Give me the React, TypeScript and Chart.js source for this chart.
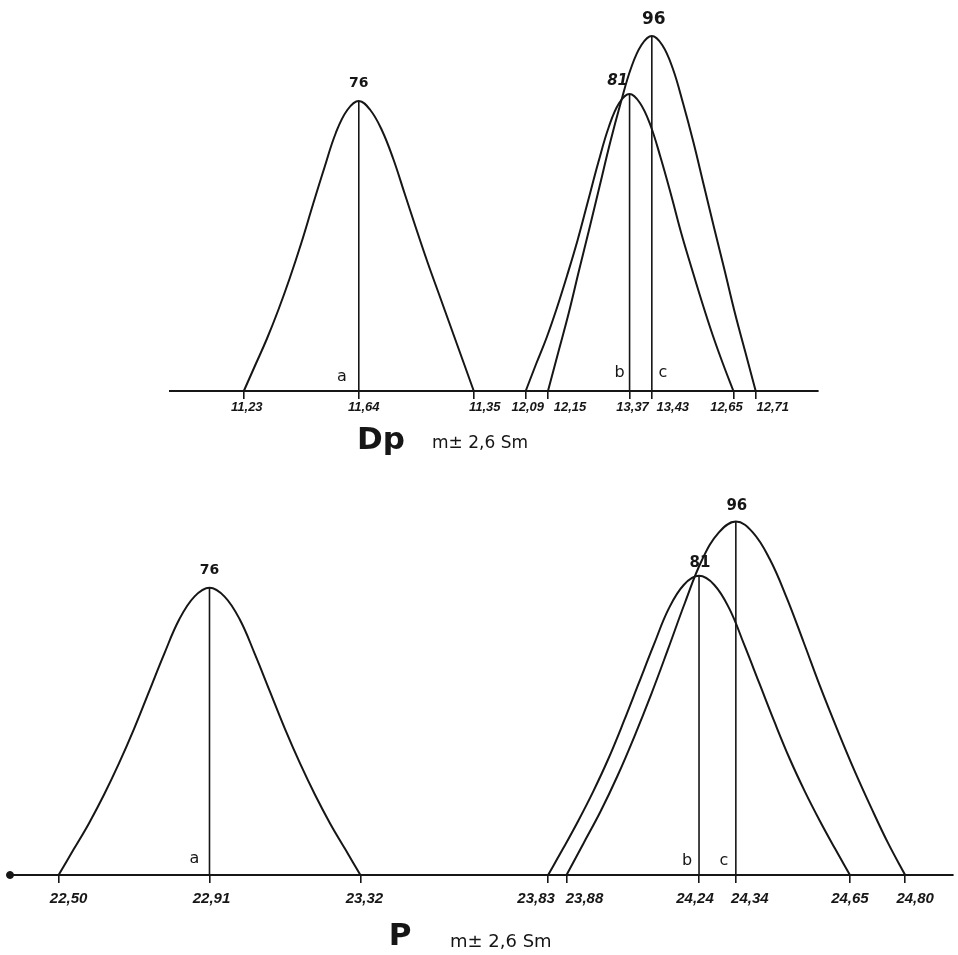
import React, { useEffect, useRef } from "react";
import { Chart, registerables } from "chart.js";

Chart.register(...registerables);

// ---------- Panel Dp (top) ----------
const dpTickValues = [11.33, 11.64, 11.95, 12.09, 12.15, 12.37, 12.43, 12.65, 12.71];
const dpTickLabels = ["11,23", "11,64", "11,35", "12,09", "12,15", "13,37", "13,43", "12,65", "12,71"];
const dpMeans = [11.64, 12.37, 12.43];
const dpPeaks = [290, 297, 355];
const dpCounts = ["76", "81", "96"];

const dpA_x = [11.33, 11.361, 11.392, 11.423, 11.454, 11.485, 11.516, 11.547, 11.578, 11.609, 11.64, 11.671, 11.702, 11.733, 11.764, 11.795, 11.826, 11.857, 11.888, 11.919, 11.95];
const dpA_y = [0, 26, 52, 81, 113, 148, 186, 223, 258, 281, 290, 281, 261, 232, 197, 162, 128, 96, 64, 32, 0];
const dpB_x = [12.09, 12.118, 12.146, 12.174, 12.202, 12.23, 12.258, 12.286, 12.314, 12.342, 12.37, 12.398, 12.426, 12.454, 12.482, 12.51, 12.538, 12.566, 12.594, 12.622, 12.65];
const dpB_y = [0, 27, 53, 83, 116, 151, 190, 229, 264, 288, 297, 288, 266, 233, 196, 157, 122, 88, 56, 27, 0];
const dpC_x = [12.15, 12.178, 12.206, 12.234, 12.262, 12.29, 12.318, 12.346, 12.374, 12.402, 12.43, 12.458, 12.486, 12.514, 12.542, 12.57, 12.598, 12.626, 12.654, 12.682, 12.71];
const dpC_y = [0, 39, 78, 121, 163, 206, 249, 288, 323, 346, 355, 346, 323, 288, 249, 206, 163, 121, 78, 39, 0];

// ---------- Panel P (bottom) ----------
const pTickValues = [22.5, 22.91, 23.32, 23.83, 23.88, 24.24, 24.34, 24.65, 24.8];
const pTickLabels = ["22,50", "22,91", "23,32", "23,83", "23,88", "24,24", "24,34", "24,65", "24,80"];
const pMeans = [22.91, 24.24, 24.34];
const pPeaks = [291, 303, 358];
const pCounts = ["76", "81", "96"];

const pA_x = [22.5, 22.541, 22.582, 22.623, 22.664, 22.705, 22.746, 22.787, 22.828, 22.869, 22.91, 22.951, 22.992, 23.033, 23.074, 23.115, 23.156, 23.197, 23.238, 23.279, 23.32];
const pA_y = [0, 26, 52, 81, 113, 148, 186, 224, 259, 282, 291, 282, 259, 224, 186, 148, 113, 81, 52, 26, 0];
const pB_x = [23.83, 23.871, 23.912, 23.953, 23.994, 24.035, 24.076, 24.117, 24.158, 24.199, 24.24, 24.281, 24.322, 24.363, 24.404, 24.445, 24.486, 24.527, 24.568, 24.609, 24.65];
const pB_y = [0, 27, 55, 85, 118, 155, 194, 233, 270, 294, 303, 294, 270, 233, 194, 155, 118, 85, 55, 27, 0];
const pC_x = [23.88, 23.926, 23.972, 24.018, 24.064, 24.11, 24.156, 24.202, 24.248, 24.294, 24.34, 24.386, 24.432, 24.478, 24.524, 24.57, 24.616, 24.662, 24.708, 24.754, 24.8];
const pC_y = [0, 32, 64, 100, 140, 183, 229, 276, 319, 347, 358, 347, 320, 281, 236, 190, 147, 106, 68, 32, 0];

const groupLetters = ["a", "b", "c"];

const INK = "#161616";

type PanelCfg = {
  width: number;
  height: number;
  xMin: number;
  xMax: number;
  yMax: number;
  padding: { left: number; right: number; top: number; bottom: number };
  tickValues: number[];
  tickLabels: string[];
  tickLabelDx: number[];
  tickLabelDy: number;
  tickFont: string;
  curves: { x: number[]; y: number[] }[];
  means: number[];
  peaks: number[];
  counts: string[];
  countFonts: string[];
  countOffsets: [number, number][];
  letterOffsets: [number, number][];
  title: string;
  titleX: number;
  titleY: number;
  subX: number;
  subY: number;
  subFont: string;
  dot: boolean;
};

function buildChart(canvas: HTMLCanvasElement, cfg: PanelCfg) {
  const datasets: any[] = [];
  cfg.curves.forEach((c) => {
    datasets.push({
      data: c.x.map((x, i) => ({ x, y: c.y[i] })),
      borderColor: INK,
      borderWidth: 2,
      pointRadius: 0,
      fill: false,
      tension: 0.4,
      clip: false,
    });
  });
  cfg.means.forEach((m, i) => {
    datasets.push({
      data: [
        { x: m, y: 0 },
        { x: m, y: cfg.peaks[i] },
      ],
      borderColor: INK,
      borderWidth: 1.6,
      pointRadius: 0,
      fill: false,
      tension: 0,
      clip: false,
    });
  });
  if (cfg.dot) {
    datasets.push({
      data: [{ x: cfg.xMin, y: 0 }],
      showLine: false,
      pointRadius: 3.5,
      pointBackgroundColor: INK,
      pointBorderColor: INK,
      clip: false,
    });
  }

  const annotate = {
    id: "annotate",
    afterDatasetsDraw(chart: any) {
      const ctx = chart.ctx;
      const xs = chart.scales.x;
      const ys = chart.scales.y;
      const base = ys.getPixelForValue(0);
      ctx.save();
      ctx.fillStyle = INK;
      ctx.textAlign = "center";
      ctx.textBaseline = "middle";
      // axis tick labels (hand-lettered, nudged like the original)
      ctx.font = cfg.tickFont;
      cfg.tickValues.forEach((v, i) => {
        ctx.fillText(cfg.tickLabels[i], xs.getPixelForValue(v) + cfg.tickLabelDx[i], base + cfg.tickLabelDy);
      });
      // counts at peaks
      cfg.means.forEach((m, i) => {
        ctx.font = cfg.countFonts[i];
        const px = xs.getPixelForValue(m) + cfg.countOffsets[i][0];
        const py = ys.getPixelForValue(cfg.peaks[i]) + cfg.countOffsets[i][1];
        ctx.fillText(cfg.counts[i], px, py);
      });
      // group letters
      ctx.font = "16px 'DejaVu Sans', sans-serif";
      cfg.means.forEach((m, i) => {
        const px = xs.getPixelForValue(m) + cfg.letterOffsets[i][0];
        const py = base + cfg.letterOffsets[i][1];
        ctx.fillText(groupLetters[i], px, py);
      });
      // title
      ctx.textAlign = "center";
      ctx.font = "bold 31px 'DejaVu Sans', sans-serif";
      ctx.fillText(cfg.title, cfg.titleX, cfg.titleY);
      ctx.textAlign = "left";
      ctx.font = cfg.subFont;
      ctx.fillText("m\u00b1 2,6 Sm", cfg.subX, cfg.subY);
      ctx.restore();
    },
  };

  return new Chart(canvas, {
    type: "line",
    data: { datasets },
    plugins: [annotate],
    options: {
      animation: false,
      responsive: false,
      devicePixelRatio: 1,
      events: [],
      layout: { padding: cfg.padding },
      plugins: { legend: { display: false }, tooltip: { enabled: false }, title: { display: false } },
      scales: {
        x: {
          type: "linear",
          min: cfg.xMin,
          max: cfg.xMax,
          afterBuildTicks: (axis: any) => {
            axis.ticks = cfg.tickValues.map((v) => ({ value: v }));
          },
          grid: {
            display: true,
            drawOnChartArea: false,
            drawTicks: true,
            tickLength: 8,
            color: INK,
            lineWidth: 1.6,
          },
          border: { display: true, color: INK, width: 2 },
          ticks: {
            display: false,
            autoSkip: false,
            maxRotation: 0,
            callback: (_v: any, i: number) => cfg.tickLabels[i],
          },
        },
        y: {
          type: "linear",
          display: false,
          min: 0,
          max: cfg.yMax,
        },
      },
    } as any,
  });
}

function Panel({ cfg, top }: { cfg: PanelCfg; top: number }) {
  const ref = useRef<HTMLCanvasElement | null>(null);
  useEffect(() => {
    if (!ref.current) return;
    const chart = buildChart(ref.current, cfg);
    return () => chart.destroy();
  }, []);
  return (
    <canvas
      ref={ref}
      width={cfg.width}
      height={cfg.height}
      style={{ position: "absolute", left: 0, top, width: cfg.width, height: cfg.height }}
    />
  );
}

const topCfg: PanelCfg = {
  width: 958,
  height: 480,
  xMin: 11.131,
  xMax: 12.878,
  yMax: 391,
  padding: { left: 170, right: 140, top: 0, bottom: 81 },
  tickValues: dpTickValues,
  tickLabels: dpTickLabels,
  tickLabelDx: [3, 5, 11, 2, 22, 3, 21, -7, 17],
  tickLabelDy: 16,
  tickFont: "italic bold 13px 'Liberation Sans', Arial, sans-serif",
  curves: [
    { x: dpA_x, y: dpA_y },
    { x: dpB_x, y: dpB_y },
    { x: dpC_x, y: dpC_y },
  ],
  means: dpMeans,
  peaks: dpPeaks,
  counts: dpCounts,
  countFonts: [
    "bold 14px 'DejaVu Sans', sans-serif",
    "bold italic 15px 'DejaVu Sans', sans-serif",
    "bold 17px 'DejaVu Sans', sans-serif",
  ],
  countOffsets: [
    [0, -18],
    [-12, -13],
    [2, -16],
  ],
  letterOffsets: [
    [-17, -14],
    [-10, -18],
    [11, -18],
  ],
  title: "Dp",
  titleX: 381,
  titleY: 441,
  subX: 432,
  subY: 444,
  subFont: "17px 'DejaVu Sans', sans-serif",
  dot: false,
};

const bottomCfg: PanelCfg = {
  width: 958,
  height: 475,
  xMin: 22.368,
  xMax: 24.93,
  yMax: 395,
  padding: { left: 10, right: 0, top: 0, bottom: 72 },
  tickValues: pTickValues,
  tickLabels: pTickLabels,
  tickLabelDx: [10, 2, 4, -12, 18, -4, 14, 0, 10],
  tickLabelDy: 24,
  tickFont: "italic bold 15px 'Liberation Sans', Arial, sans-serif",
  curves: [
    { x: pA_x, y: pA_y },
    { x: pB_x, y: pB_y },
    { x: pC_x, y: pC_y },
  ],
  means: pMeans,
  peaks: pPeaks,
  counts: pCounts,
  countFonts: [
    "bold 14px 'DejaVu Sans', sans-serif",
    "bold 15px 'DejaVu Sans', sans-serif",
    "bold 15px 'DejaVu Sans', sans-serif",
  ],
  countOffsets: [
    [0, -17],
    [1, -13],
    [1, -15],
  ],
  letterOffsets: [
    [-15, -16],
    [-12, -14],
    [-12, -14],
  ],
  title: "P",
  titleX: 400,
  titleY: 457,
  subX: 450,
  subY: 462,
  subFont: "18px 'DejaVu Sans', sans-serif",
  dot: true,
};

export default function App() {
  return (
    <div style={{ position: "absolute", left: 0, top: 0, width: 958, height: 955, background: "#fff" }}>
      <Panel cfg={topCfg} top={0} />
      <Panel cfg={bottomCfg} top={480} />
    </div>
  );
}
